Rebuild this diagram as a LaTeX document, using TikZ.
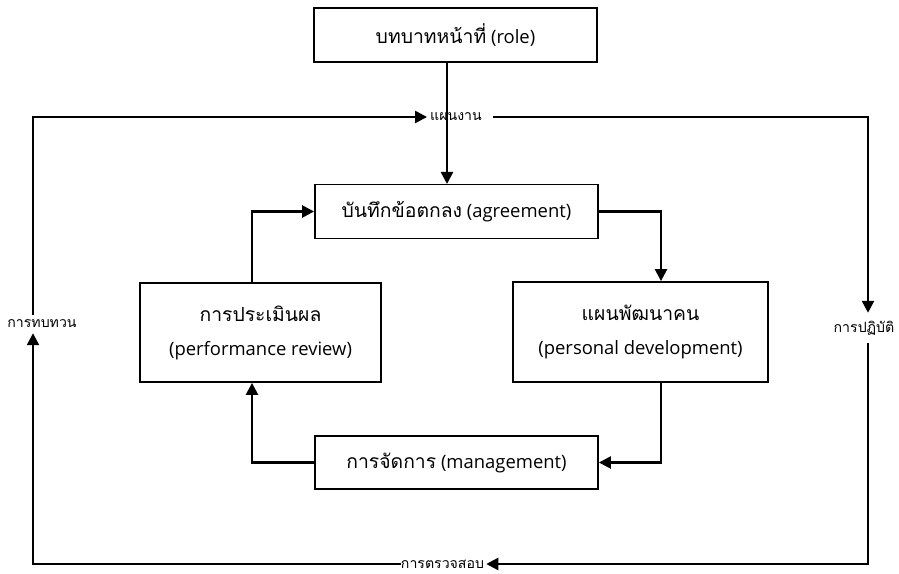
\documentclass[tikz,border=0pt]{standalone}
\usepackage{fontspec}
\setmainfont{Open Sans}
\newfontfamily\thaifont[Script=Thai,Scale=1.05]{Loma}
\newcommand{\thai}[1]{{\thaifont #1}}
\usetikzlibrary{arrows.meta}
\begin{document}
\begin{tikzpicture}[x=1bp,y=-1bp,
  box/.style={draw,line width=1.8bp,minimum height=#1,inner sep=0pt,font=\fontsize{18.5}{21}\selectfont},
  box/.default=54bp,
  lbl/.style={inner sep=0pt,font=\fontsize{13.5}{15}\selectfont},
  flow/.style={line width=2.4bp,-{Triangle[length=12bp,width=12bp]}}]
\useasboundingbox (0,0) rectangle (899,574);

% boxes
\node[box,minimum width=283bp] (role) at (455.5,35) {\thai{บทบาทหน้าที่} (role)};
\node[box,minimum width=283bp] (agr) at (456.5,211.5) {\thai{บันทึกข้อตกลง} (agreement)};
\node[box=99bp,minimum width=241bp,align=center] (perf) at (260.5,332.5)
  {\thai{การประเมินผล}\\[13bp](performance review)};
\node[box=100bp,minimum width=255bp,align=center] (dev) at (640.5,332)
  {\thai{แผนพัฒนาคน}\\[13bp](personal development)};
\node[box=53bp,minimum width=283bp] (mgmt) at (456.5,462.5) {\thai{การจัดการ} (management)};

% cycle labels
\node[lbl,minimum height=16bp] (plan) at (456,117) {\thai{แผนงาน}};
\node[lbl,minimum height=30bp] (act) at (864,328) {\thai{การปฏิบัติ}};
\node[lbl,minimum height=14bp] (chk) at (442.5,564) {\thai{การตรวจสอบ}};
\node[lbl,minimum height=18bp] (rev) at (42,324) {\thai{การทบทวน}};

\coordinate (rolefoot) at (447,61);
\coordinate (agrtop) at (447,184);

% inner cycle
\draw[flow] (rolefoot) -- (agrtop);
\draw[flow] (agr.east) -| (dev.north -| 661,0);
\draw[flow] (dev.south -| 661,0) |- (mgmt.east);
\draw[flow] (mgmt.west) -| (perf.south -| 252,0);
\draw[flow] (perf.north -| 252,0) |- (agr.west);

% outer cycle
\draw[flow] (rev.north -| 33,0) |- ([xshift=-3bp]plan.west);
\draw[flow] ([xshift=11bp]plan.east) -| (act.north -| 868,0);
\draw[flow] (act.south -| 868,0) |- ([xshift=2bp]chk.east);
\draw[flow] (chk.west) -| (rev.south -| 33,0);
\end{tikzpicture}
\end{document}
